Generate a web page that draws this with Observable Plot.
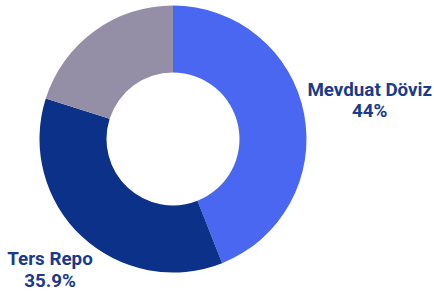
<!DOCTYPE html>
<html><head><meta charset="utf-8">
<script src="https://cdn.jsdelivr.net/npm/d3@7"></script>
<script src="https://cdn.jsdelivr.net/npm/@observablehq/plot@0.6"></script>
<style>html,body{margin:0;padding:0;background:#fff} svg{display:block}</style>
</head><body><div id="chart"></div>
<script>
// Data
const categories = ["Mevduat Döviz", "Ters Repo", "Diğer"];
const shares = [44, 35.9, 20.1];
const colors = ["#4a67f2", "#0c3189", "#948fa7"];
const labelTexts = ["Mevduat Döviz\n44%", "Ters Repo\n35.9%", ""];

// Layout (label anchor positions in the chart's unit coordinate space)
const labelX = [1.47, -0.925, 0];
const labelY = [0.298, -0.97, 0];
const innerRatio = 0.498;

const data = categories.map((c, i) => ({category: c, share: shares[i], color: colors[i]}));
const labels = categories.map((c, i) => ({text: labelTexts[i], x: labelX[i], y: labelY[i]})).filter(d => d.text);

function donut(index, scales) {
  const {x, y} = scales;
  const cx = x(0), cy = y(0), r = x(1) - x(0);
  const pie = d3.pie().sort(null).value(d => d.share)(data);
  const arc = d3.arc().innerRadius(r * innerRatio).outerRadius(r);
  const g = d3.create("svg:g").attr("transform", `translate(${cx},${cy})`);
  g.selectAll("path").data(pie).join("path")
    .attr("d", arc)
    .attr("fill", d => d.data.color);
  return g.node();
}

const chart = Plot.plot({
  width: 434,
  height: 294,
  margin: 0,
  x: {domain: [-1, 1], range: [39.5, 306.5], axis: null},
  y: {domain: [-1, 1], range: [272.5, 5.5], axis: null},
  marks: [
    donut,
    Plot.text(labels, {
      x: "x", y: "y", text: "text",
      fontSize: 18.8, fontWeight: 700, fontFamily: "Roboto",
      fill: "#1b3a8c", lineHeight: 1.15, textAnchor: "middle", lineAnchor: "middle"
    })
  ]
});
document.getElementById("chart").appendChild(chart);
</script>
</body></html>
